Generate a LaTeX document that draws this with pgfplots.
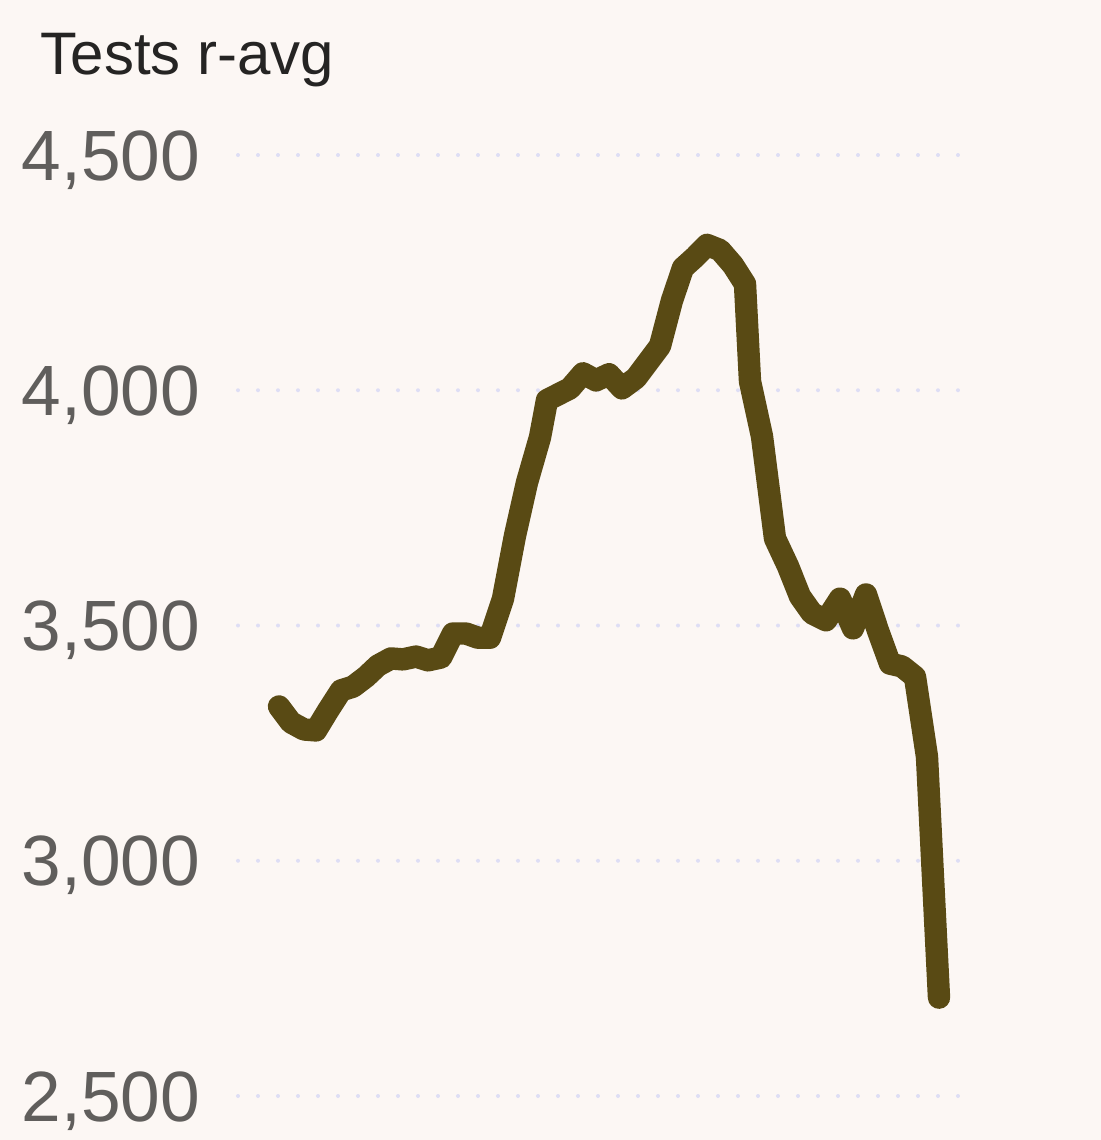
\documentclass[border=0pt]{standalone}
\usepackage{pgfplots}
\pgfplotsset{compat=1.18}
\usepackage{fontspec}
\setmainfont{Liberation Sans}
\definecolor{bgc}{RGB}{252,247,244}
\definecolor{linec}{RGB}{89,74,20}
\definecolor{gridc}{RGB}{222,222,245}
\definecolor{tickc}{RGB}{96,94,92}
\definecolor{titlec}{RGB}{37,36,35}
\begin{document}
\begin{tikzpicture}
\fill[bgc] (0,0) rectangle (275.25pt,285pt);
\path[use as bounding box] (0,0) rectangle (275.25pt,285pt);
\node[anchor=base west, font=\fontsize{15pt}{17pt}\selectfont, text=titlec, inner sep=0pt] at (10pt,266.5pt) {Tests r-avg};
\begin{axis}[
  at={(59.5pt,11pt)}, anchor=south west,
  scale only axis, width=181pt, height=235.25pt,
  xmin=238, xmax=962, ymin=2500, ymax=4500,
  ytick={2500,3000,3500,4000,4500},
  xtick=\empty,
  axis line style={draw=none},
  major tick length=0pt,
  ymajorgrids,
  grid style={gridc, line width=1pt, line cap=round, dash pattern=on 0pt off 5pt},
  yticklabel style={font=\fontsize{17.8pt}{19pt}\selectfont, text=tickc, anchor=east, xshift=-6pt, yshift=-1.2pt},
  /pgf/number format/assume math mode=true,
  /pgf/number format/1000 sep={,},
  clip=false,
]
\addplot[linec, line width=5.6pt, line join=round, line cap=round] coordinates {
(279,3328) (291,3294) (304,3279) (316,3277) (328,3319) (341,3362) (353,3370)
(366,3391) (378,3415) (391,3430) (403,3428) (416,3434) (428,3426) (441,3432)
(453,3483) (466,3483) (478,3474) (490,3474) (503,3557) (515,3691) (527,3804)
(540,3900) (547,3979) (570,4004) (583,4036) (596,4021) (609,4034) (622,4004)
(636,4026) (648,4060) (660,4094) (672,4191) (683,4260) (695,4283) (707,4309)
(720,4298) (733,4266) (745,4226) (750,4019) (762,3902) (775,3685) (788,3626)
(800,3562) (812,3526) (826,3511) (840,3557) (853,3494) (866,3566) (878,3489)
(890,3419) (902,3413) (915,3391) (927,3221) (939,2709)
};
\end{axis}
\end{tikzpicture}
\end{document}
